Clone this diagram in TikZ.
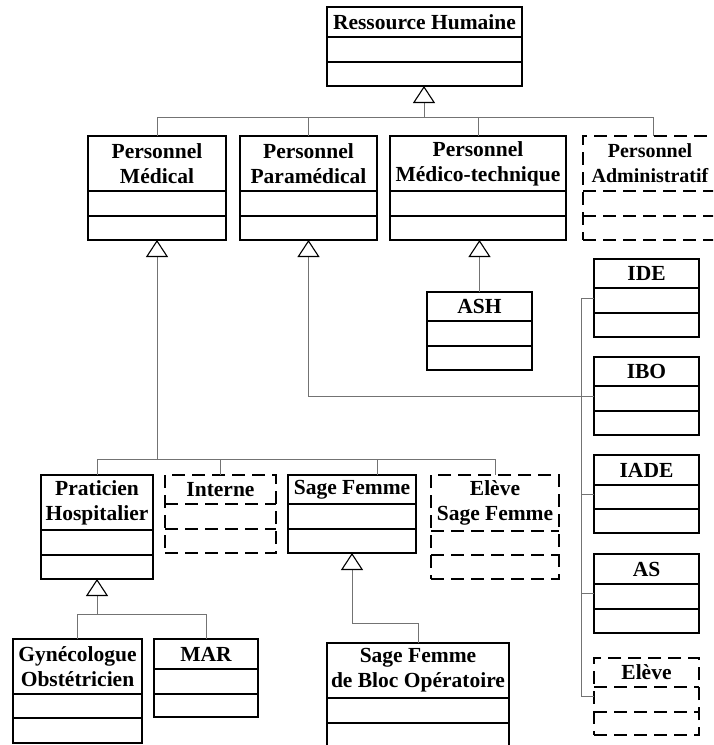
\documentclass[tikz,border=0pt]{standalone}
\usepackage{fontspec}
\setmainfont{Liberation Serif}
\usetikzlibrary{arrows.meta}
\tikzset{
  cls/.style={draw=black, line width=1.1pt, fill=white, inner sep=0pt, outer sep=0pt},
  dcls/.style={cls, dash pattern=on 13pt off 7pt},
  lbl/.style={font=\bfseries\fontsize{21.5}{25}\selectfont, align=center, inner sep=0pt},
  conn/.style={draw=black!55, line width=0.9pt},
  gen/.style={-{Triangle[length=17pt,width=22pt,color=black,fill=white,line width=1.1pt]}},
}
\newcommand\umlclass[9]{%
  \node[#8, anchor=north west, minimum width={(#4-#2)*1pt}, minimum height={(#5-#3)*1pt}] (#1) at (#2,#3) {};
  \draw[#8] (#2,#6) -- (#4,#6);
  \draw[#8] (#2,#7) -- (#4,#7);
  \node[lbl] (#1-t) at ({(#2+#4)/2},{(#3+#6)/2}) {#9};
}
\begin{document}
\begin{tikzpicture}[x=1pt,y=-1pt]
\useasboundingbox (0,0) rectangle (713,745);
\clip (0,0) rectangle (713,745);
\fill[white] (0,0) rectangle (713,745);

% classes
\umlclass{RH}{327}{7}{522}{86}{37}{62}{cls}{Ressource Humaine}
\umlclass{PM}{88}{136}{226}{240}{191}{216}{cls}{Personnel\\Médical}
\umlclass{PP}{240}{136}{377}{240}{191}{216}{cls}{Personnel\\Paramédical}
\umlclass{PMT}{390}{136}{566}{240}{191}{216}{cls}{Personnel\\Médico-technique}
% Personnel Administratif (runs past the right edge)
\node[dcls, anchor=north west, minimum width=140pt, minimum height=104pt] (PA) at (583,136) {};
\draw[dcls] (583,191) -- (723,191);
\draw[dcls] (583,216) -- (723,216);
\node[lbl, font=\bfseries\fontsize{20}{25}\selectfont] (PA-t) at (650,163.5) {Personnel\\Administratif};
\umlclass{ASH}{427}{292}{532}{370}{321}{346}{cls}{ASH}
\umlclass{IDE}{594}{259}{699}{337}{288}{313}{cls}{IDE}
\umlclass{IBO}{594}{357}{699}{435}{386}{411}{cls}{IBO}
\umlclass{IADE}{594}{455}{699}{533}{485}{509}{cls}{IADE}
\umlclass{AS}{594}{554}{699}{633}{584}{609}{cls}{AS}
\umlclass{EL}{594}{658}{699}{735}{687}{712}{dcls}{Elève}
\umlclass{PH}{41}{475}{153}{579}{530}{555}{cls}{Praticien\\Hospitalier}
\umlclass{INT}{165}{475}{276}{553}{504}{529}{dcls}{Interne}
\umlclass{SF}{288}{475}{416}{553}{504}{529}{cls}{Sage Femme}
\umlclass{ESF}{431}{475}{559}{579}{531}{555}{dcls}{Elève\\Sage Femme}
\umlclass{GY}{13}{639}{142}{743}{694}{718}{cls}{Gynécologue\\Obstétricien}
\umlclass{MAR}{154}{639}{258}{717}{669}{694}{cls}{MAR}
\umlclass{SFBO}{327}{643}{509}{770}{698}{723}{cls}{Sage Femme\\de Bloc Opératoire}

% Ressource Humaine generalisation
\coordinate (hub1) at (424,117);
\draw[conn,gen] (hub1) -- (hub1 |- RH.south);
\draw[conn] (PM.north) -- (PM.north |- hub1) -- (PA.north |- hub1) -- (PA.north);
\draw[conn] (PP.north) -- (PP.north |- hub1);
\draw[conn] (PMT.north) -- (PMT.north |- hub1);

% ASH
\draw[conn,gen] (ASH.north) -- (ASH.north |- PMT.south);

% paramedical bus
\coordinate (bus) at (581,300);
\draw[conn] (IDE.west) -- (IDE.west -| bus) -- (EL.west -| bus) -- (EL.west);
\draw[conn] (IADE.west) -- (IADE.west -| bus);
\draw[conn] (AS.west) -- (AS.west -| bus);
\draw[conn,gen] (IBO.west) -| (PP.south);

% medical
\coordinate (hub2) at (157,459);
\draw[conn,gen] (hub2) -- (PM.south);
\draw[conn] (PH.north) -- (PH.north |- hub2) -- (ESF.north |- hub2) -- (ESF.north);
\draw[conn] (INT.north) -- (INT.north |- hub2);
\coordinate (sfstem) at (377,475);
\draw[conn] (sfstem) -- (sfstem |- hub2);

% praticien
\coordinate (hub3) at (97,614);
\draw[conn,gen] (hub3) -- (PH.south);
\draw[conn] (GY.north) -- (GY.north |- hub3) -- (MAR.north |- hub3) -- (MAR.north);

% sage femme
\draw[conn,gen] (SFBO.north) -- ++(0,-20) -| (SF.south);
\end{tikzpicture}
\end{document}
